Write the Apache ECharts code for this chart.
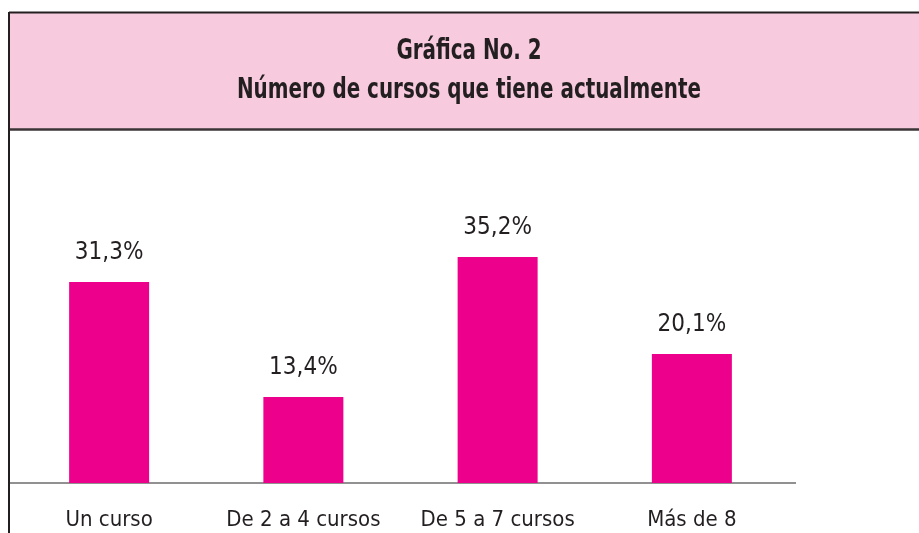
<!DOCTYPE html>
<html>
<head>
<meta charset="utf-8">
<script src="https://cdn.jsdelivr.net/npm/echarts@6/dist/echarts.min.js"></script>
<style>
  html, body { margin: 0; padding: 0; background: #fff; }
  #chart { width: 919px; height: 533px; }
</style>
</head>
<body>
<div id="chart"></div>
<script>
// datos
var titleLines = ['Gráfica No. 2', 'Número de cursos que tiene actualmente']
var categories = ['Un curso', 'De 2 a 4 cursos', 'De 5 a 7 cursos', 'Más de 8']
var percents = [31.3, 13.4, 35.2, 20.1]

var narrow = "'Liberation Sans Narrow', 'DejaVu Sans Condensed', 'Arial Narrow', sans-serif"
var chart = echarts.init(document.getElementById('chart'))

function titleText(txt, y) {
  return {
    type: 'text',
    x: 469,
    y: y,
    scaleX: 0.79,
    style: {
      x: 0,
      y: 0,
      text: txt,
      fontFamily: narrow,
      fontWeight: 'bold',
      fontSize: 28,
      fill: '#231f20',
      align: 'center',
      verticalAlign: 'middle'
    }
  }
}

var option = {
  backgroundColor: '#ffffff',
  animation: false,
  textStyle: {
    fontFamily: narrow,
    color: '#231f20'
  },
  graphic: [
    // franja rosa del encabezado
    {
      type: 'rect',
      shape: { x: 10, y: 13, width: 909, height: 116 },
      style: { fill: '#f7cadd' }
    },
    {
      type: 'line',
      shape: { x1: 9, y1: 12.5, x2: 919, y2: 12.5 },
      style: { stroke: '#231f20', lineWidth: 2 }
    },
    {
      type: 'line',
      shape: { x1: 9, y1: 129.5, x2: 919, y2: 129.5 },
      style: { stroke: '#3a3436', lineWidth: 2.5 }
    },
    {
      type: 'line',
      shape: { x1: 9, y1: 12, x2: 9, y2: 533 },
      style: { stroke: '#231f20', lineWidth: 2 }
    },
    // linea base
    {
      type: 'line',
      shape: { x1: 10, y1: 483, x2: 796, y2: 483 },
      style: { stroke: '#6d6d6d', lineWidth: 1.5 }
    },
    titleText(titleLines[0], 52),
    titleText(titleLines[1], 91)
  ],
  grid: {
    left: 12,
    right: 130,
    top: 162,
    bottom: 50,
    containLabel: false
  },
  xAxis: {
    type: 'category',
    data: categories,
    axisLine: { show: false },
    axisTick: { show: false },
    axisLabel: {
      margin: 26,
      fontSize: 22,
      fontFamily: narrow,
      color: '#231f20',
      interval: 0
    }
  },
  yAxis: {
    type: 'value',
    min: 0,
    max: 50,
    show: false,
    splitLine: { show: false }
  },
  series: [
    {
      type: 'bar',
      data: percents,
      barWidth: 80,
      itemStyle: { color: '#ec008c' },
      label: {
        show: true,
        position: 'top',
        distance: 17,
        fontSize: 24,
        fontFamily: narrow,
        color: '#231f20',
        formatter: function (p) {
          return p.value.toFixed(1).replace('.', ',') + '%'
        }
      }
    }
  ]
}

chart.setOption(option)
</script>
</body>
</html>
